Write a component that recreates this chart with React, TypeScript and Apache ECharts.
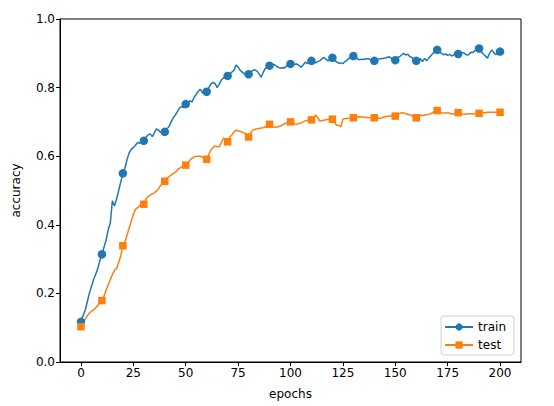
import React, { useEffect, useRef } from 'react';
import * as echarts from 'echarts';

// accuracy per epoch
const trainAcc = [
  0.117, 0.135, 0.15, 0.175, 0.2, 0.22, 0.24, 0.255, 0.272, 0.295, 0.314,
  0.335, 0.355, 0.385, 0.405, 0.47, 0.455, 0.475, 0.5, 0.525, 0.55,
  0.565, 0.59, 0.61, 0.62, 0.625, 0.632, 0.64, 0.638, 0.642, 0.645,
  0.655, 0.662, 0.665, 0.657, 0.668, 0.68, 0.676, 0.67, 0.668, 0.671,
  0.68, 0.686, 0.7, 0.711, 0.72, 0.73, 0.74, 0.745, 0.742, 0.752,
  0.755, 0.762, 0.758, 0.772, 0.78, 0.79, 0.795, 0.785, 0.782, 0.788,
  0.8, 0.81, 0.815, 0.812, 0.8, 0.81, 0.822, 0.828, 0.83, 0.834,
  0.84, 0.845, 0.85, 0.866, 0.86, 0.85, 0.845, 0.84, 0.838, 0.839,
  0.845, 0.85, 0.852, 0.848, 0.84, 0.83, 0.845, 0.856, 0.86, 0.864,
  0.867, 0.868, 0.864, 0.86, 0.857, 0.858, 0.857, 0.862, 0.866, 0.869,
  0.87, 0.868, 0.869, 0.865, 0.859, 0.866, 0.874, 0.87, 0.875, 0.878,
  0.875, 0.872, 0.876, 0.878, 0.884, 0.888, 0.882, 0.878, 0.884, 0.887,
  0.88, 0.875, 0.871, 0.872, 0.87, 0.876, 0.88, 0.886, 0.89, 0.892,
  0.888, 0.884, 0.881, 0.883, 0.882, 0.884, 0.884, 0.882, 0.88, 0.878,
  0.882, 0.883, 0.884, 0.885, 0.886, 0.888, 0.89, 0.886, 0.882, 0.88,
  0.888, 0.89, 0.895, 0.9, 0.895, 0.897, 0.89, 0.888, 0.882, 0.878,
  0.882, 0.884, 0.876, 0.885, 0.878, 0.886, 0.893, 0.9, 0.905, 0.91,
  0.905, 0.9, 0.896, 0.898, 0.894, 0.897, 0.892, 0.896, 0.9, 0.898,
  0.9, 0.902, 0.9, 0.895, 0.896, 0.903, 0.902, 0.908, 0.91, 0.914,
  0.905, 0.898, 0.892, 0.886, 0.9, 0.91, 0.902, 0.896, 0.903, 0.905,
];

const testAcc = [
  0.103, 0.115, 0.125, 0.134, 0.142, 0.148, 0.152, 0.158, 0.165, 0.172, 0.179,
  0.192, 0.21, 0.225, 0.24, 0.255, 0.268, 0.272, 0.29, 0.31, 0.339,
  0.35, 0.37, 0.39, 0.41, 0.43, 0.445, 0.45, 0.455, 0.458, 0.46,
  0.475, 0.482, 0.486, 0.49, 0.493, 0.498, 0.505, 0.515, 0.52, 0.527,
  0.535, 0.54, 0.545, 0.55, 0.553, 0.56, 0.565, 0.568, 0.57, 0.574,
  0.58, 0.588, 0.594, 0.598, 0.6, 0.6, 0.6, 0.597, 0.594, 0.591,
  0.605, 0.618, 0.625, 0.63, 0.628, 0.627, 0.64, 0.653, 0.648, 0.642,
  0.655, 0.662, 0.67, 0.676, 0.674, 0.672, 0.67, 0.668, 0.662, 0.656,
  0.668, 0.676, 0.678, 0.68, 0.681, 0.682, 0.683, 0.686, 0.69, 0.693,
  0.69, 0.685, 0.684, 0.686, 0.688, 0.69, 0.694, 0.697, 0.699, 0.7,
  0.698, 0.694, 0.693, 0.695, 0.697, 0.7, 0.703, 0.704, 0.705, 0.706,
  0.712, 0.72, 0.712, 0.702, 0.704, 0.705, 0.706, 0.707, 0.707, 0.708,
  0.7, 0.69, 0.69, 0.686, 0.708, 0.71, 0.71, 0.711, 0.712, 0.712,
  0.713, 0.714, 0.715, 0.714, 0.714, 0.713, 0.713, 0.712, 0.712, 0.712,
  0.711, 0.711, 0.711, 0.713, 0.715, 0.716, 0.717, 0.717, 0.717, 0.717,
  0.72, 0.724, 0.727, 0.726, 0.724, 0.722, 0.721, 0.718, 0.714, 0.712,
  0.716, 0.72, 0.718, 0.72, 0.721, 0.722, 0.724, 0.728, 0.731, 0.733,
  0.73, 0.727, 0.726, 0.726, 0.727, 0.725, 0.723, 0.724, 0.726, 0.727,
  0.725, 0.723, 0.722, 0.723, 0.724, 0.724, 0.723, 0.724, 0.725, 0.725,
  0.726, 0.727, 0.727, 0.728, 0.728, 0.728, 0.728, 0.728, 0.728, 0.728,
];

const xTicks = [0, 25, 50, 75, 100, 125, 150, 175, 200];
const markEvery = 10;

const font = 'DejaVu Sans';

const toPoints = (values: number[]) =>
  values.map((v, i) => ({
    value: [i, v],
    symbol: i % markEvery === 0 ? undefined : 'none',
  }));

const App = () => {
  const chartRef = useRef<HTMLDivElement>(null);

  useEffect(() => {
    if (!chartRef.current) return;
    const myChart = echarts.init(chartRef.current, null, { renderer: 'svg' });

    const option: any = {
      animation: false,
      textStyle: { fontFamily: font },
      grid: {
        left: 60,
        right: 33,
        top: 19,
        bottom: 44,
        show: true,
        borderColor: '#000',
        borderWidth: 1,
        outerBoundsMode: 'none',
      },
      legend: {
        orient: 'vertical',
        right: 40,
        bottom: 51,
        itemWidth: 28,
        itemHeight: 9,
        itemGap: 6,
        padding: [5, 8, 4, 3],
        backgroundColor: '#fff',
        borderColor: '#d0d0d0',
        borderWidth: 1,
        borderRadius: 3,
        textStyle: { fontFamily: font, fontSize: 12, color: '#000' },
        data: ['train', 'test'],
      },
      xAxis: {
        type: 'value',
        min: -10,
        max: 210,
        name: 'epochs',
        nameLocation: 'middle',
        nameGap: 26,
        nameTextStyle: { fontFamily: font, fontSize: 12, color: '#000' },
        splitLine: { show: false },
        axisLine: { show: true, onZero: false, lineStyle: { color: '#000' } },
        axisTick: {
          show: true,
          length: 4,
          customValues: xTicks,
          lineStyle: { color: '#000' },
        },
        axisLabel: {
          customValues: xTicks,
          margin: 5,
          fontFamily: font,
          fontSize: 12,
          color: '#000',
        },
      },
      yAxis: {
        type: 'value',
        min: 0,
        max: 1,
        interval: 0.2,
        name: 'accuracy',
        nameLocation: 'middle',
        nameGap: 38,
        nameTextStyle: { fontFamily: font, fontSize: 12, color: '#000' },
        splitLine: { show: false },
        axisLine: { show: true, onZero: false, lineStyle: { color: '#000' } },
        axisTick: { show: true, length: 4, lineStyle: { color: '#000' } },
        axisLabel: {
          margin: 5,
          fontFamily: font,
          fontSize: 12,
          color: '#000',
          formatter: (v: number) => v.toFixed(1),
        },
      },
      series: [
        {
          name: 'train',
          type: 'line',
          data: toPoints(trainAcc),
          symbol: 'circle',
          symbolSize: 8.5,
          showAllSymbol: true,
          lineStyle: { width: 1.5, color: '#1f77b4' },
          itemStyle: { color: '#1f77b4' },
        },
        {
          name: 'test',
          type: 'line',
          data: toPoints(testAcc),
          symbol: 'rect',
          symbolSize: 7.5,
          showAllSymbol: true,
          lineStyle: { width: 1.5, color: '#ff7f0e' },
          itemStyle: { color: '#ff7f0e' },
        },
      ],
    };

    myChart.setOption(option);

    return () => {
      myChart.dispose();
    };
  }, []);

  return (
    <div
      ref={chartRef}
      style={{ position: 'absolute', left: 0, top: 0, width: '554px', height: '406px', background: '#fff' }}
    />
  );
};

export default App;
